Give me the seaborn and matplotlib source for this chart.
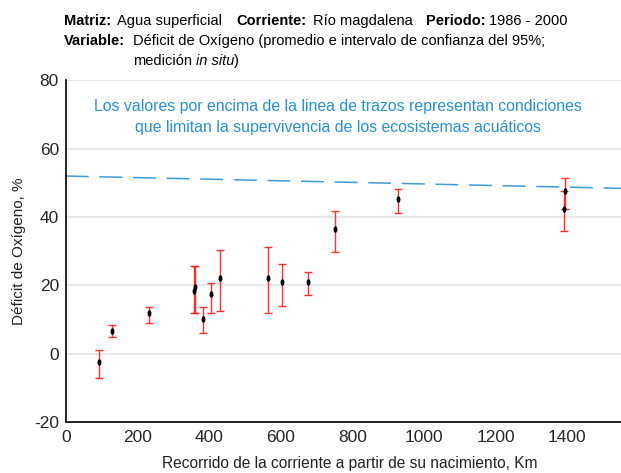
import matplotlib
matplotlib.use("Agg")
import matplotlib.pyplot as plt
import seaborn as sns
import numpy as np
import pandas as pd

# Distance along the river (km) and oxygen deficit statistics (%)
distance_km = [94, 129, 231, 359, 360, 384, 406, 430, 564, 603, 676, 752, 927, 1390, 1393]
deficit_mean = [-2.4, 6.6, 11.9, 18.4, 19.6, 10.1, 17.4, 22.2, 22.1, 20.9, 20.9, 36.4, 45.4, 42.4, 47.5]
ci_lower = [-7.1, 4.8, 9.0, 12.0, 12.0, 5.9, 11.9, 12.5, 12.0, 13.8, 17.3, 29.9, 41.2, 35.8, 42.3]
ci_upper = [1.1, 8.3, 13.7, 25.6, 25.6, 13.7, 20.8, 30.4, 31.1, 26.1, 23.8, 41.7, 48.3, 47.5, 51.4]

# Reference threshold line
threshold_km = [0, 1550]
threshold_pct = [52.0, 48.4]

x_ticks = [0, 200, 400, 600, 800, 1000, 1200, 1400]
y_ticks = [-20, 0, 20, 40, 60, 80]

df = pd.DataFrame({"km": distance_km, "mean": deficit_mean,
                   "lo": ci_lower, "hi": ci_upper})
thr = pd.DataFrame({"km": threshold_km, "pct": threshold_pct})

sns.set_theme(style="white")
plt.rcParams["font.family"] = ["Liberation Sans", "DejaVu Sans"]
plt.rcParams["axes.unicode_minus"] = False

fig = plt.figure(figsize=(6.21, 4.73), dpi=100)
ax = fig.add_axes([0.106, 0.108, 0.894, 0.722])

ax.yaxis.grid(True, color="#e3e3e3", linewidth=1.2)
ax.set_axisbelow(True)

sns.lineplot(data=thr, x="km", y="pct", ax=ax, color="#2a8fcf",
             linewidth=1.1, alpha=0.9)
ax.lines[-1].set_dashes([15, 7])

yerr = np.array([df["mean"] - df["lo"], df["hi"] - df["mean"]])
ax.errorbar(df["km"], df["mean"], yerr=yerr, fmt="none", ecolor="#ff1a1a",
            elinewidth=1.0, capsize=3, capthick=1.0, alpha=0.9, zorder=2)

# small upright ellipse marker
theta = np.linspace(0, 2 * np.pi, 30)
ellipse = np.column_stack([0.6 * np.cos(theta), np.sin(theta)])
sns.scatterplot(data=df, x="km", y="mean", ax=ax, color="black", s=22,
                marker=ellipse, edgecolor="black", linewidth=0, zorder=3)

ax.set_xlim(0, 1550)
ax.set_ylim(-20, 80)
ax.set_xticks(x_ticks)
ax.set_yticks(y_ticks)
ax.tick_params(axis="x", direction="in", length=8, width=1, color="black",
               labelsize=12.5, pad=6)
ax.tick_params(axis="y", direction="out", length=3, width=1, color="black",
               labelsize=12.5, pad=2)
for side in ["top", "right"]:
    ax.spines[side].set_visible(False)
for side in ["left", "bottom"]:
    ax.spines[side].set_color("black")
    ax.spines[side].set_linewidth(1.2)

ax.set_xlabel("Recorrido de la corriente a partir de su nacimiento, Km",
              fontsize=11.2, color="#222222", labelpad=4)
ax.xaxis.set_label_coords((350 - 66) / 555, -0.1)
ax.set_ylabel("Déficit de Oxígeno, %", fontsize=11, color="#222222",
              labelpad=6)

ax.text((338 - 66) / 555, 0.893,
        "Los valores por encima de la linea de trazos representan condiciones\n"
        "que limitan la supervivencia de los ecosistemas acuáticos",
        transform=ax.transAxes, ha="center", va="center", fontsize=11.4,
        color="#2a8fcf", linespacing=1.45)

# Header: bold field names followed by regular values
header = [
    (64, 25, "Matriz:", "bold", "normal"),
    (117, 25, "Agua superficial", "normal", "normal"),
    (236, 25, "Corriente:", "bold", "normal"),
    (313, 25, "Río magdalena", "normal", "normal"),
    (426, 25, "Periodo:", "bold", "normal"),
    (489, 25, "1986 - 2000", "normal", "normal"),
    (64, 45, "Variable:", "bold", "normal"),
    (133, 45, "Déficit de Oxígeno (promedio e intervalo de confianza del 95%;",
     "normal", "normal"),
    (133, 65, "medición", "normal", "normal"),
    (196, 65, "in situ", "normal", "italic"),
    (234, 65, ")", "normal", "normal"),
]
for x_px, y_px, txt, weight, style in header:
    fig.text(x_px / 621, 1 - y_px / 473, txt, fontsize=10.5,
             fontweight=weight, fontstyle=style, color="black",
             va="baseline", ha="left")

fig.savefig("out.png", dpi=100, facecolor="white")
